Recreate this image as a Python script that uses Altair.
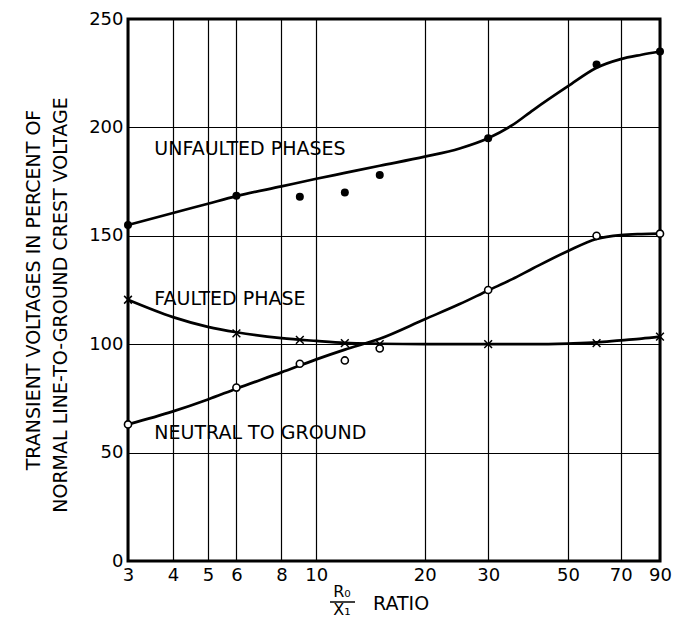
import altair as alt
import pandas as pd

# ---------------- data ----------------
x_ticks = [3, 4, 5, 6, 8, 10, 20, 30, 50, 70, 90]
y_ticks = [0, 50, 100, 150, 200, 250]

pt_x = [3, 6, 9, 12, 15, 30, 60, 90]
unfaulted_pts = [155, 168.5, 168, 170, 178, 195, 229, 235]
faulted_pts = [120.5, 105, 102, 100.5, 100, 100, 100.5, 103.5]
neutral_pts = [63, 80, 91, 92.5, 98, 125, 150, 151]

curve_x = [3, 4, 5, 6, 8, 10, 12, 15, 20, 25, 30, 35, 40, 50, 60, 70, 80, 90]
unfaulted_curve = [155, 160.5, 164.8, 168.3, 172.8, 176.3, 179, 182.3, 186.5, 190.3,
                   195, 201, 208, 219, 227.5, 231.5, 233.5, 235]
faulted_curve = [120.5, 112.5, 108, 105.5, 102.8, 101.5, 100.6, 100.2, 100, 100,
                 100, 100, 100, 100.3, 100.8, 101.8, 102.6, 103.5]
neutral_curve = [63, 69, 74.5, 79.5, 87, 93, 97.5, 102.5, 111.5, 118.5,
                 124.8, 130, 135, 143, 148.5, 150.3, 150.8, 151]

series_labels = ["UNFAULTED PHASES", "FAULTED PHASE", "NEUTRAL TO GROUND"]
label_x = [3.55, 3.55, 3.55]
label_y = [190, 121, 59]

y_title = ["TRANSIENT VOLTAGES IN PERCENT OF", "NORMAL LINE-TO-GROUND CREST VOLTAGE"]
x_title_num = "R₀"
x_title_den = "X₁"
x_title_word = "RATIO"

FONT = "DejaVu Sans"

# ---------------- tables ----------------
curves = pd.concat([
    pd.DataFrame({"x": curve_x, "y": unfaulted_curve, "s": "unfaulted"}),
    pd.DataFrame({"x": curve_x, "y": faulted_curve, "s": "faulted"}),
    pd.DataFrame({"x": curve_x, "y": neutral_curve, "s": "neutral"}),
])
pts_u = pd.DataFrame({"x": pt_x, "y": unfaulted_pts})
pts_f = pd.DataFrame({"x": pt_x, "y": faulted_pts})
pts_n = pd.DataFrame({"x": pt_x, "y": neutral_pts})
lab = pd.DataFrame({"x": label_x, "y": label_y, "t": series_labels})

xs = alt.Scale(type="log", domain=[3, 90], nice=False)
ys = alt.Scale(domain=[0, 250], nice=False)

AX = dict(domain=False, ticks=False, grid=True, gridColor="black", gridOpacity=1,
          gridWidth=1.2, labelFont=FONT, labelFontSize=18, labelColor="black",
          labelFlush=False, labelPadding=5)

X = alt.X("x:Q", scale=xs, title=None,
          axis=alt.Axis(values=x_ticks, labelExpr="datum.value", **AX))
Y = alt.Y("y:Q", scale=ys, title=None,
          axis=alt.Axis(values=y_ticks, **AX))

lines = alt.Chart(curves).mark_line(
    color="black", strokeWidth=2.7, interpolate="monotone"
).encode(x=X, y=Y, detail="s:N")

dots = alt.Chart(pts_u).mark_point(
    shape="circle", filled=True, color="black", size=64, opacity=1
).encode(x=X, y=Y)

crosses = alt.Chart(pts_f).mark_point(
    shape="M-1,-1L1,1M1,-1L-1,1", filled=False, color="black", size=60,
    strokeWidth=1.5, opacity=1
).encode(x=X, y=Y)

rings = alt.Chart(pts_n).mark_point(
    shape="circle", filled=True, fill="white", stroke="black", strokeWidth=1.6,
    size=50, opacity=1
).encode(x=X, y=Y)

labels = alt.Chart(lab).mark_text(
    align="left", baseline="middle", font=FONT, fontSize=19, color="black"
).encode(x=X, y=Y, text="t:N")

one = pd.DataFrame({"a": [0]})
yt1 = alt.Chart(one).mark_text(
    text=y_title[0], angle=270, font=FONT, fontSize=19, color="black",
    align="center", baseline="middle"
).encode(x=alt.value(-94), y=alt.value(271))
yt2 = alt.Chart(one).mark_text(
    text=y_title[1], angle=270, font=FONT, fontSize=19, color="black",
    align="center", baseline="middle"
).encode(x=alt.value(-67), y=alt.value(286))

num = alt.Chart(one).mark_text(
    text=x_title_num, font=FONT, fontSize=16, color="black",
    align="center", baseline="middle"
).encode(x=alt.value(214), y=alt.value(573))
den = alt.Chart(one).mark_text(
    text=x_title_den, font=FONT, fontSize=16, color="black",
    align="center", baseline="middle"
).encode(x=alt.value(214), y=alt.value(591))
bar = alt.Chart(one).mark_rule(color="black", strokeWidth=1.5).encode(
    x=alt.value(202), x2=alt.value(227), y=alt.value(583))
word = alt.Chart(one).mark_text(
    text=x_title_word, font=FONT, fontSize=19, color="black",
    align="left", baseline="middle"
).encode(x=alt.value(245), y=alt.value(585))

chart = alt.layer(
    lines, dots, crosses, rings, labels, yt1, yt2, num, den, bar, word
).properties(
    width=532, height=542,
    padding={"left": 120, "top": 11, "right": 12, "bottom": 60},
    autosize="none",
    background="white",
).configure_view(
    stroke="black", strokeWidth=3
)

chart.save("out.html", embed_options={"renderer": "svg", "actions": False})
